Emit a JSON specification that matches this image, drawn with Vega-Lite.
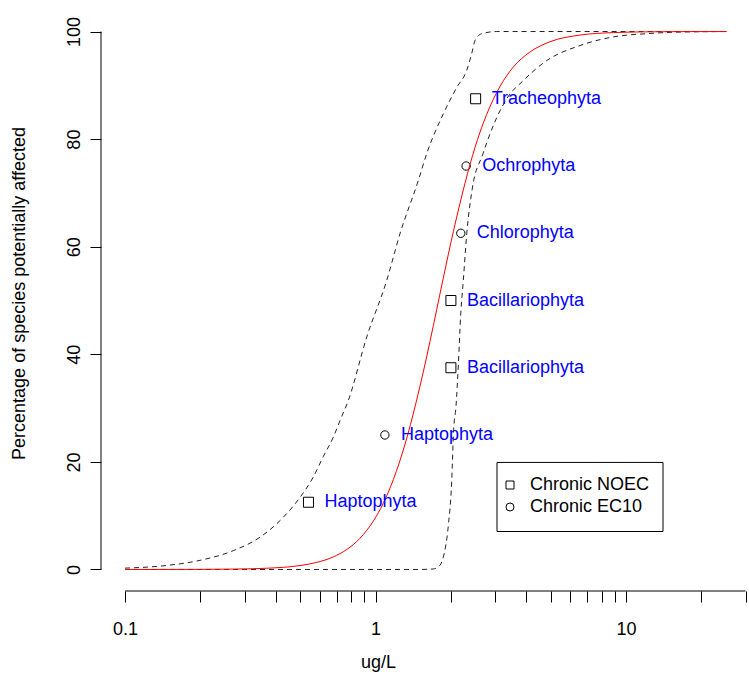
{
  "$schema": "https://vega.github.io/schema/vega-lite/v6.json",
  "width": 648,
  "height": 581,
  "autosize": {"type": "none"},
  "padding": {"left": 101, "top": 10, "right": 0, "bottom": 84},
  "background": "white",
  "config": {
    "view": {"stroke": null},
    "font": "Liberation Sans",
    "axis": {
      "grid": false,
      "domain": false,
      "tickColor": "black",
      "tickWidth": 1,
      "tickSize": 11,
      "labelFontSize": 18,
      "labelColor": "black",
      "labelFont": "Liberation Sans",
      "titleFontSize": 18,
      "titleFontWeight": "normal",
      "titleColor": "black",
      "titleFont": "Liberation Sans"
    }
  },
  "datasets": {
    "points": [
      {"conc": 0.54, "pct": 12.5, "label": "Haptophyta", "type": "Chronic NOEC"},
      {"conc": 1.09, "pct": 25, "label": "Haptophyta", "type": "Chronic EC10"},
      {"conc": 2.0, "pct": 37.5, "label": "Bacillariophyta", "type": "Chronic NOEC"},
      {"conc": 2.0, "pct": 50, "label": "Bacillariophyta", "type": "Chronic NOEC"},
      {"conc": 2.19, "pct": 62.5, "label": "Chlorophyta", "type": "Chronic EC10"},
      {"conc": 2.3, "pct": 75, "label": "Ochrophyta", "type": "Chronic EC10"},
      {"conc": 2.51, "pct": 87.5, "label": "Tracheophyta", "type": "Chronic NOEC"}
    ],
    "fit": [
      {"conc": 0.1, "pct": 0},
      {"conc": 0.1992, "pct": 0.02},
      {"conc": 0.2706, "pct": 0.07},
      {"conc": 0.368, "pct": 0.23},
      {"conc": 0.4995, "pct": 0.73},
      {"conc": 0.5823, "pct": 1.31},
      {"conc": 0.6786, "pct": 2.34},
      {"conc": 0.767, "pct": 3.7},
      {"conc": 0.8671, "pct": 5.8},
      {"conc": 0.98, "pct": 9.0},
      {"conc": 1.074, "pct": 12.3},
      {"conc": 1.178, "pct": 16.7},
      {"conc": 1.312, "pct": 23.3},
      {"conc": 1.451, "pct": 31.0},
      {"conc": 1.551, "pct": 36.7},
      {"conc": 1.65, "pct": 42.4},
      {"conc": 1.755, "pct": 48.3},
      {"conc": 1.865, "pct": 54.2},
      {"conc": 2.045, "pct": 62.8},
      {"conc": 2.175, "pct": 68.1},
      {"conc": 2.384, "pct": 75.3},
      {"conc": 2.613, "pct": 81.3},
      {"conc": 2.779, "pct": 84.6},
      {"conc": 3.141, "pct": 89.8},
      {"conc": 3.549, "pct": 93.4},
      {"conc": 4.139, "pct": 96.2},
      {"conc": 4.973, "pct": 98.1},
      {"conc": 6.552, "pct": 99.34},
      {"conc": 8.9, "pct": 99.8},
      {"conc": 12.09, "pct": 99.94},
      {"conc": 16.43, "pct": 99.98},
      {"conc": 25.23, "pct": 100}
    ],
    "upper": [
      {"conc": 0.1, "pct": 0.25},
      {"conc": 0.1467, "pct": 0.75},
      {"conc": 0.1992, "pct": 1.7},
      {"conc": 0.2706, "pct": 3.5},
      {"conc": 0.3458, "pct": 6.0},
      {"conc": 0.4284, "pct": 9.7},
      {"conc": 0.4995, "pct": 13.4},
      {"conc": 0.5646, "pct": 17.2},
      {"conc": 0.6189, "pct": 21.0},
      {"conc": 0.6786, "pct": 24.6},
      {"conc": 0.7217, "pct": 27.7},
      {"conc": 0.7787, "pct": 31.4},
      {"conc": 0.9223, "pct": 43.2},
      {"conc": 1.108, "pct": 53.7},
      {"conc": 1.252, "pct": 62.4},
      {"conc": 1.482, "pct": 72.3},
      {"conc": 1.601, "pct": 77.3},
      {"conc": 1.865, "pct": 84.7},
      {"conc": 2.11, "pct": 89.6},
      {"conc": 2.313, "pct": 92.8},
      {"conc": 2.421, "pct": 95.9},
      {"conc": 2.495, "pct": 98.3},
      {"conc": 2.655, "pct": 99.6},
      {"conc": 3.047, "pct": 100},
      {"conc": 25.23, "pct": 100}
    ],
    "lower": [
      {"conc": 0.1, "pct": 0},
      {"conc": 1.5, "pct": 0},
      {"conc": 1.701, "pct": 0.1},
      {"conc": 1.809, "pct": 0.8},
      {"conc": 1.865, "pct": 2.3},
      {"conc": 1.953, "pct": 8.2},
      {"conc": 2.015, "pct": 16.5},
      {"conc": 2.048, "pct": 25.5},
      {"conc": 2.097, "pct": 30.5},
      {"conc": 2.141, "pct": 38},
      {"conc": 2.189, "pct": 47.5},
      {"conc": 2.241, "pct": 53.7},
      {"conc": 2.313, "pct": 62.4},
      {"conc": 2.428, "pct": 70.5},
      {"conc": 2.686, "pct": 77.3},
      {"conc": 3.083, "pct": 84.5},
      {"conc": 3.442, "pct": 88.4},
      {"conc": 3.774, "pct": 90.3},
      {"conc": 4.825, "pct": 94.6},
      {"conc": 6.552, "pct": 97.4},
      {"conc": 8.9, "pct": 99.0},
      {"conc": 12.09, "pct": 99.6},
      {"conc": 16.43, "pct": 99.9},
      {"conc": 25.23, "pct": 100}
    ]
  },
  "layer": [
    {
      "data": {"name": "points"},
      "mark": {"type": "point", "filled": false, "color": "black", "strokeWidth": 1, "opacity": 1},
      "encoding": {
        "x": {
          "field": "conc",
          "type": "quantitative",
          "title": "ug/L",
          "scale": {"type": "log", "domain": [0.0802, 30.97], "nice": false},
          "axis": {
            "values": [0.1, 0.2, 0.3, 0.4, 0.5, 0.6, 0.7, 0.8, 0.9, 1, 2, 3, 4, 5, 6, 7, 8, 9, 10, 20, 30],
            "format": "~g",
            "labelExpr": "(datum.value == 0.1 || datum.value == 1 || datum.value == 10) ? datum.label : ''",
            "labelOverlap": false,
            "labelFlush": false,
            "labelBaseline": "alphabetic",
            "labelPadding": 32,
            "titleX": 277,
            "titleY": 71,
            "titleBaseline": "middle",
            "titleAlign": "center"
          }
        },
        "y": {
          "field": "pct",
          "type": "quantitative",
          "title": "Percentage of species potentially affected",
          "scale": {"domain": [-4, 104], "nice": false, "zero": false},
          "axis": {
            "values": [0, 20, 40, 60, 80, 100],
            "labelAngle": 270,
            "labelAlign": "center",
            "labelBaseline": "alphabetic",
            "labelPadding": 11,
            "labelOverlap": false,
            "labelFlush": false,
            "titleAngle": 270,
            "titleX": -82,
            "titleY": 283,
            "titleBaseline": "middle",
            "titleAlign": "center"
          }
        },
        "shape": {
          "field": "type",
          "type": "nominal",
          "scale": {"domain": ["Chronic NOEC", "Chronic EC10"], "range": ["square", "circle"]},
          "legend": {
            "title": null,
            "orient": "none",
            "legendX": 400,
            "legendY": 466,
            "symbolSize": 64,
            "symbolStrokeColor": "black",
            "symbolStrokeWidth": 1,
            "symbolFillColor": "transparent",
            "symbolType": "square",
            "labelFontSize": 18,
            "labelFont": "Liberation Sans",
            "labelColor": "black",
            "labelOffset": 11,
            "rowPadding": 4,
            "padding": 0
          }
        },
        "size": {
          "condition": {"test": "datum.type == 'Chronic EC10'", "value": 70},
          "value": 100
        }
      }
    },
    {
      "data": {"values": [{}]},
      "mark": {"type": "rect", "fill": "transparent", "stroke": "black", "strokeWidth": 1},
      "encoding": {
        "x": {"datum": 3.055, "type": "quantitative"},
        "x2": {"datum": 14.05},
        "y": {"datum": 7.06, "type": "quantitative"},
        "y2": {"datum": 19.9}
      }
    },
    {
      "data": {"values": [{}]},
      "mark": {"type": "rule", "color": "black", "strokeWidth": 1},
      "encoding": {
        "x": {"datum": 0.1, "type": "quantitative"},
        "x2": {"datum": 30},
        "y": {"datum": -4, "type": "quantitative"}
      }
    },
    {
      "data": {"values": [{}]},
      "mark": {"type": "rule", "color": "black", "strokeWidth": 1},
      "encoding": {
        "x": {"datum": 0.0802, "type": "quantitative"},
        "y": {"datum": 0, "type": "quantitative"},
        "y2": {"datum": 100}
      }
    },
    {
      "data": {"name": "upper"},
      "mark": {"type": "line", "color": "#222222", "strokeWidth": 1, "strokeDash": [5, 4], "interpolate": "monotone"},
      "encoding": {
        "x": {"field": "conc", "type": "quantitative"},
        "y": {"field": "pct", "type": "quantitative"}
      }
    },
    {
      "data": {"name": "lower"},
      "mark": {"type": "line", "color": "#222222", "strokeWidth": 1, "strokeDash": [5, 4], "interpolate": "monotone"},
      "encoding": {
        "x": {"field": "conc", "type": "quantitative"},
        "y": {"field": "pct", "type": "quantitative"}
      }
    },
    {
      "data": {"name": "fit"},
      "mark": {"type": "line", "color": "#FF0000", "strokeWidth": 1, "interpolate": "monotone"},
      "encoding": {
        "x": {"field": "conc", "type": "quantitative"},
        "y": {"field": "pct", "type": "quantitative"}
      }
    },
    {
      "data": {"name": "points"},
      "mark": {"type": "text", "align": "left", "baseline": "middle", "dx": 16, "fontSize": 18, "color": "#0000FF", "font": "Liberation Sans"},
      "encoding": {
        "x": {"field": "conc", "type": "quantitative"},
        "y": {"field": "pct", "type": "quantitative"},
        "text": {"field": "label"}
      }
    }
  ]
}
